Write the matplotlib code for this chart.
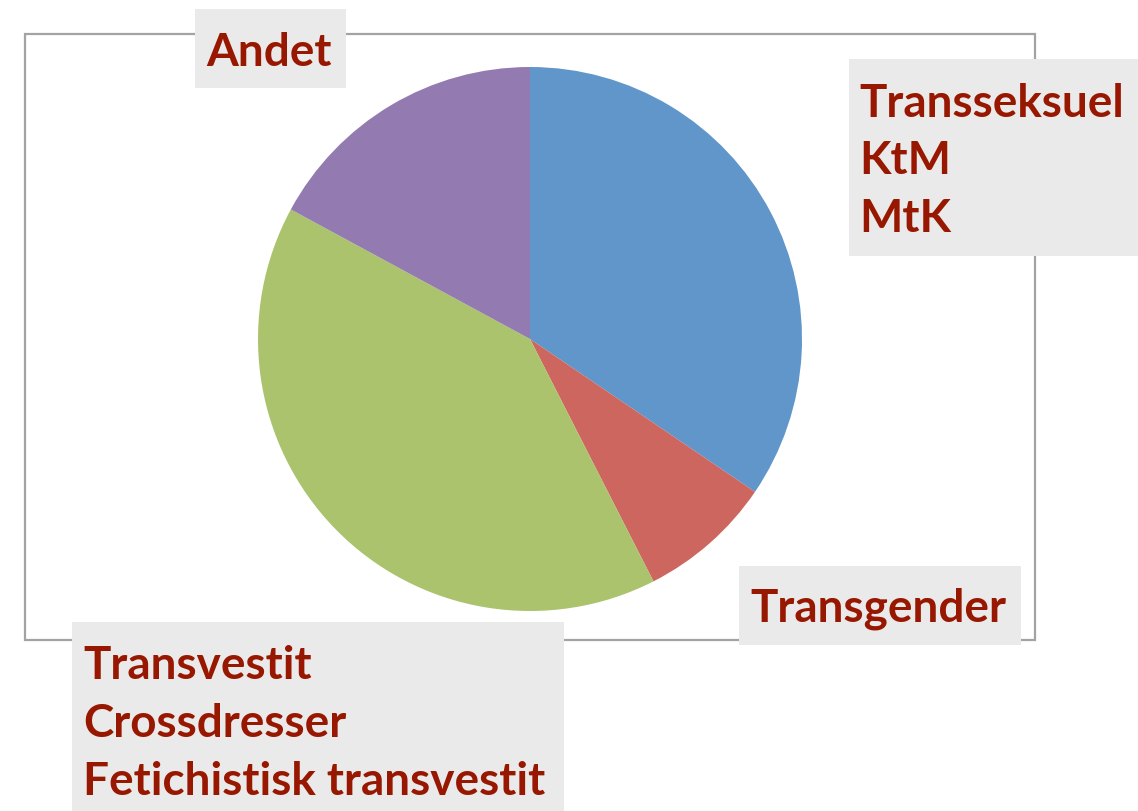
import matplotlib.pyplot as plt
import matplotlib.patches as patches

# data
categories = ['Transseksuel', 'Transgender', 'Transvestit', 'Andet']
values = [34.5, 8.0, 40.4, 17.1]
colours = ['#6096C9', '#CC665E', '#AAC36C', '#937AB0']

label_lines = {
    'Andet': ['Andet'],
    'Transseksuel': ['Transseksuel', 'KtM', 'MtK'],
    'Transgender': ['Transgender'],
    'Transvestit': ['Transvestit', 'Crossdresser', 'Fetichistisk transvestit'],
}

W, H = 1138, 812
red = '#981700'
box_grey = '#EAEAEA'

fig = plt.figure(figsize=(W / 100, H / 100), dpi=100)
fig.patch.set_facecolor('w')


def px(x, y):
    # pixel (top-left origin) -> figure fraction
    return x / W, 1 - y / H


# grey frame around the chart
x0, y0 = px(25, 641)
frame = patches.Rectangle((x0, y0), (1035 - 25) / W, (641 - 35) / H,
                          transform=fig.transFigure, facecolor='none',
                          edgecolor='#A3A3A3', linewidth=1.6, zorder=1)
fig.patches.append(frame)

# pie
ax = fig.add_axes([258 / W, 1 - 612 / H, 544 / W, 544 / H])
ax.pie(values, colors=colours, startangle=90, counterclock=False,
       radius=1, wedgeprops=dict(linewidth=0))
ax.set_xlim(-1, 1)
ax.set_ylim(-1, 1)
ax.set_axis_off()

# label boxes: (left, top, right, bottom) in pixels, text x, first baseline, line step
boxes = {
    'Andet': ((195, 10, 346, 89), 206, 66, 0),
    'Transseksuel': ((849, 60, 1138, 257), 859, 117, 57.5),
    'Transgender': ((739, 567, 1021, 646), 750, 622, 0),
    'Transvestit': ((72, 623, 564, 812), 83, 679, 58),
}

for name, (b, tx, base, step) in boxes.items():
    l, t, r, bt = b
    bx, by = px(l, bt)
    rect = patches.Rectangle((bx, by), (r - l) / W, (bt - t) / H,
                             transform=fig.transFigure, facecolor=box_grey,
                             edgecolor='none', zorder=3)
    fig.patches.append(rect)
    for i, line in enumerate(label_lines[name]):
        fx, fy = px(tx, base + i * step)
        fig.text(fx, fy, line, fontsize=33, fontweight='bold', color=red,
                 fontname='Lato', va='baseline', ha='left', zorder=4)

fig.savefig('out.png', dpi=100, facecolor='w')
